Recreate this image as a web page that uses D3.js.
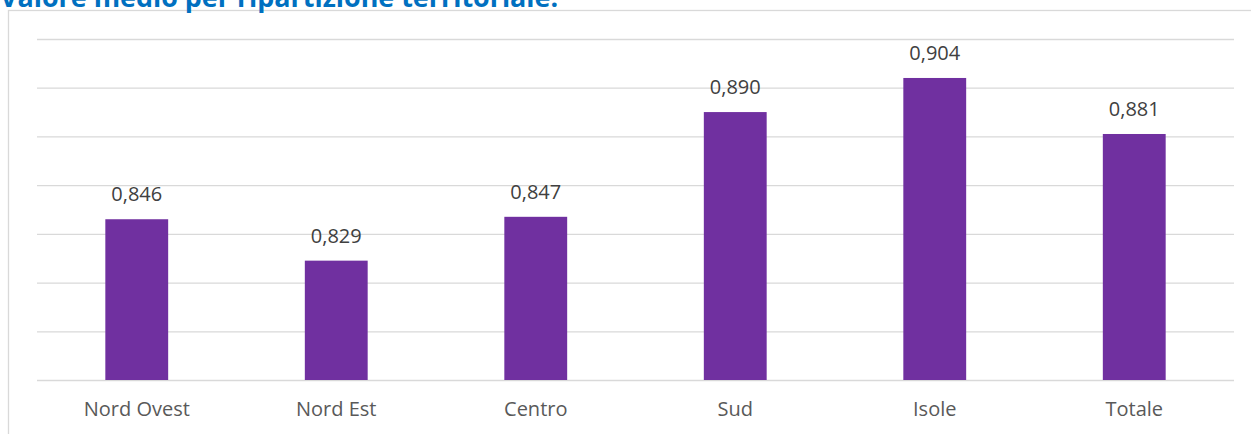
<!DOCTYPE html>
<html>
<head>
<meta charset="utf-8">
<script src="https://cdn.jsdelivr.net/npm/d3@7"></script>
<style>
  body { margin: 0; background: #fff; }
  text { font-family: "Open Sans", sans-serif; }
</style>
</head>
<body>
<svg id="chart" width="1251" height="434"></svg>
<script>
// dati
const categorie = ["Nord Ovest", "Nord Est", "Centro", "Sud", "Isole", "Totale"];
const valori = [0.846, 0.829, 0.847, 0.890, 0.904, 0.881];
const titolo = "Valore medio per ripartizione territoriale.";
const dominioY = [0.78, 0.92];

const svg = d3.select("#chart");
const W = 1251, H = 434;
const m = { left: 37, right: 17, top: 39, bottom: 54 };

// cornice del grafico
svg.append("rect")
  .attr("x", 8.5).attr("y", 10.5)
  .attr("width", W + 20).attr("height", H + 20)
  .attr("fill", "none").attr("stroke", "#d9d9d9").attr("stroke-width", 1.3);

// titolo (tagliato in alto come nell'originale)
svg.append("text")
  .attr("x", 0).attr("y", 6.5)
  .attr("font-size", 26.9).attr("font-weight", "bold")
  .attr("fill", "#0070C0")
  .text(titolo);

const x = d3.scaleBand()
  .domain(categorie)
  .range([m.left, W - m.right])
  .paddingInner(0.685)
  .paddingOuter(0.3425);

const y = d3.scaleLinear()
  .domain(dominioY)
  .range([H - m.bottom, m.top]);

// griglia
const griglia = svg.append("g")
  .attr("transform", `translate(${m.left},0)`)
  .call(d3.axisLeft(y).ticks(7).tickSize(-(W - m.right - m.left)).tickFormat(""));
griglia.select(".domain").remove();
griglia.selectAll(".tick line").attr("stroke", "#d9d9d9").attr("stroke-width", 1.3);

// barre
svg.append("g").selectAll("rect")
  .data(valori)
  .join("rect")
  .attr("x", (d, i) => x(categorie[i]))
  .attr("y", d => y(d))
  .attr("width", x.bandwidth())
  .attr("height", d => y(dominioY[0]) - y(d))
  .attr("fill", "#7030A0");

// etichette dei valori
const fmt = d => d3.format(".3f")(d).replace(".", ",");
svg.append("g").selectAll("text")
  .data(valori)
  .join("text")
  .attr("x", (d, i) => x(categorie[i]) + x.bandwidth() / 2)
  .attr("y", d => y(d) - 18)
  .attr("text-anchor", "middle")
  .attr("font-size", 20)
  .attr("fill", "#404040")
  .text(fmt);

// asse x
const asseX = svg.append("g")
  .attr("transform", `translate(0,${H - m.bottom})`)
  .call(d3.axisBottom(x).tickSize(0).tickPadding(22));
asseX.select(".domain").remove();
asseX.selectAll("text")
  .attr("font-size", 20)
  .attr("fill", "#595959")
  .attr("font-family", "Open Sans, sans-serif");
</script>
</body>
</html>
